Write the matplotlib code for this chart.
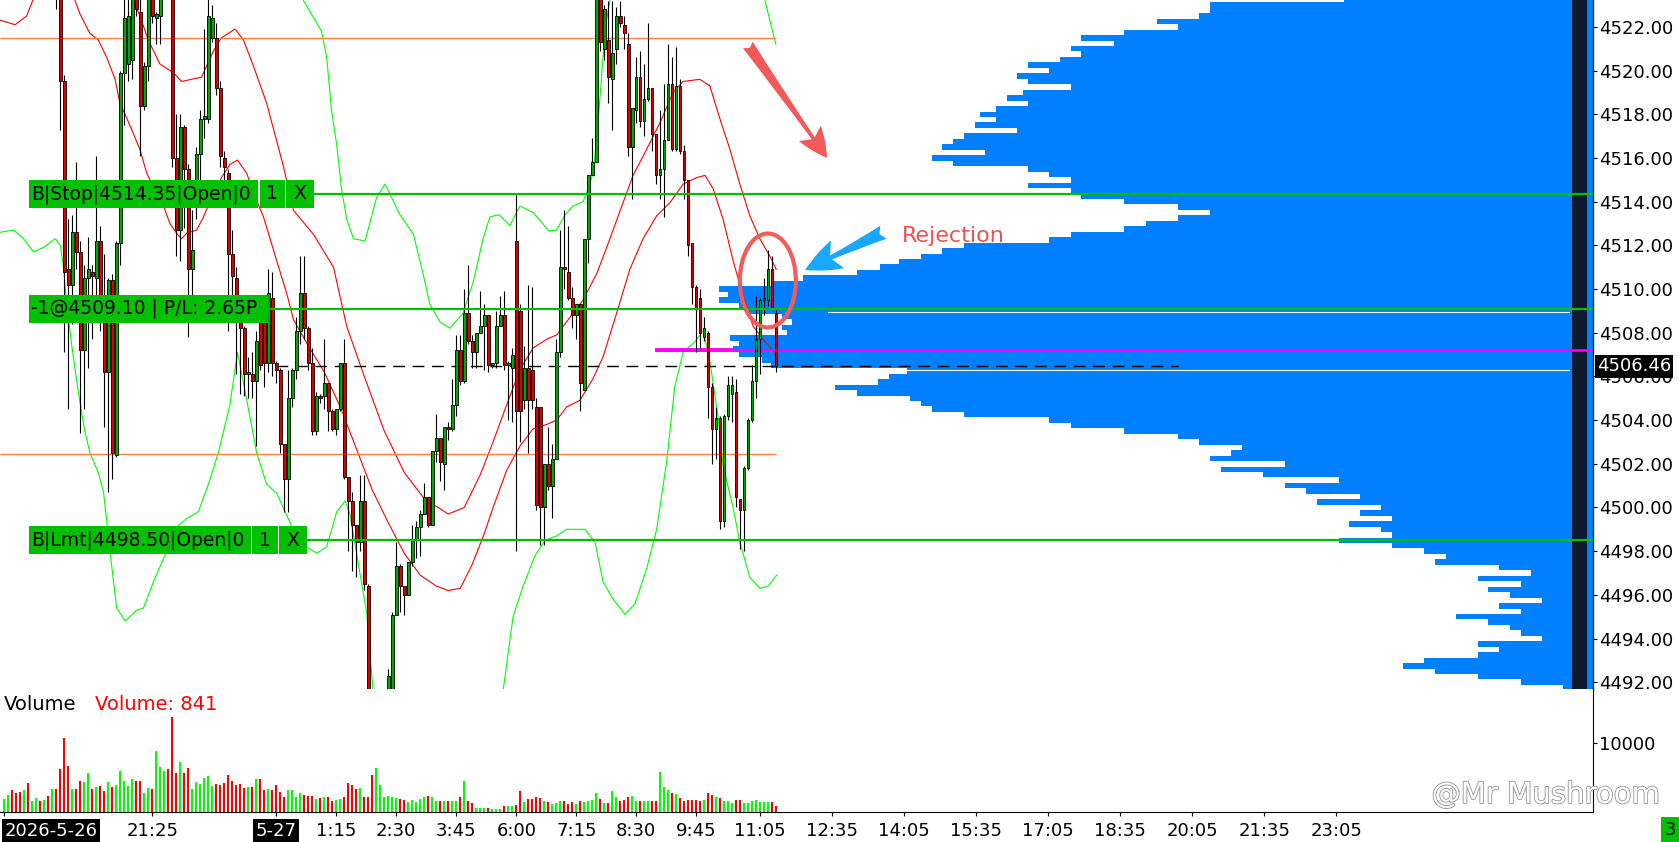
import numpy as np
import matplotlib
matplotlib.use("Agg")
import matplotlib.pyplot as plt
import matplotlib.patheffects as pe
from matplotlib.patches import Rectangle, Ellipse, FancyArrowPatch
from matplotlib.transforms import blended_transform_factory
from matplotlib.ticker import FormatStrFormatter

plt.rcParams['font.family'] = ['DejaVu Sans']

# ---------------- data (5 minute bars, index 0 = first bar on screen) ----------------
opens = [
    4525.0, 4525.6, 4526.4, 4525.9, 4525.1, 4524.6, 4525.5, 4524.4, 4525.0, 4525.4,
    4524.8, 4525.2, 4524.3, 4524.6, 4524.0, 4519.5, 4510.9, 4510.2, 4512.6, 4511.7,
    4507.2, 4510.5, 4510.8, 4510.5, 4512.2, 4509.7, 4506.2, 4510.4, 4502.4, 4512.1,
    4519.9, 4520.3, 4520.5, 4523.5, 4522.7, 4518.4, 4520.2, 4523.6, 4522.4, 4522.5,
    4523.8, 4524.6, 4524.2, 4516.0, 4512.7, 4517.4, 4515.5, 4510.9, 4514.4, 4516.2,
    4517.8, 4517.8, 4521.5, 4521.5, 4519.2, 4516.0, 4515.3, 4511.6, 4510.5, 4508.7,
    4508.2, 4506.1, 4506.1, 4505.8, 4508.9, 4508.7, 4506.6, 4509.6, 4506.6, 4506.3,
    4502.9, 4501.3, 4505.0, 4506.3, 4508.1, 4509.8, 4508.2, 4506.6, 4503.5, 4505.1,
    4505.1, 4505.7, 4504.4, 4503.6, 4504.5, 4506.6, 4501.4, 4500.3, 4499.2, 4498.4,
    4500.3, 4496.4, 4490.2, 4489.4, 4490.1, 4490.8, 4491.3, 4491.7, 4495.1, 4497.3,
    4496.4, 4496.0, 4497.5, 4498.5, 4499.1, 4499.7, 4500.5, 4499.2, 4502.6, 4503.2,
    4502.0, 4503.7, 4503.6, 4504.7, 4507.2, 4505.8, 4508.9, 4507.6, 4507.1, 4508.0,
    4508.3, 4508.8, 4506.5, 4506.6, 4508.3, 4508.8, 4506.5, 4506.4, 4512.2, 4509.0,
    4504.9, 4506.4, 4506.3, 4504.6, 4504.6, 4500.0, 4502.0, 4501.0, 4502.2, 4507.1,
    4511.0, 4510.8, 4509.6, 4508.8, 4509.3, 4505.4, 4512.3, 4515.2, 4515.8, 4523.5,
    4521.0, 4521.4, 4519.6, 4521.0, 4522.5, 4522.1, 4521.2, 4516.5, 4518.2, 4519.7,
    4517.7, 4518.7, 4519.2, 4517.1, 4515.2, 4515.5, 4516.8, 4519.4, 4516.4, 4519.3,
    4516.3, 4515.0, 4512.1, 4510.1, 4509.6, 4507.8, 4508.0, 4505.5, 4503.6, 4504.1,
    4499.4, 4504.2, 4505.2, 4505.3, 4500.4, 4499.9, 4501.8, 4504.0, 4505.8, 4507.7,
    4509.5, 4509.5, 4510.9, 4508.9]
highs = [
    4526.2, 4526.8, 4527.0, 4526.3, 4525.8, 4525.9, 4525.9, 4525.3, 4525.8, 4525.7,
    4525.6, 4525.5, 4525.0, 4524.9, 4524.3, 4519.8, 4513.2, 4513.4, 4515.8, 4512.2,
    4511.1, 4512.4, 4511.1, 4516.1, 4512.9, 4511.6, 4510.5, 4510.7, 4512.2, 4520.0,
    4523.3, 4523.4, 4524.0, 4524.0, 4523.5, 4520.4, 4524.0, 4524.0, 4522.7, 4524.0,
    4525.0, 4525.2, 4524.5, 4518.0, 4518.0, 4517.5, 4515.7, 4513.6, 4516.5, 4518.2,
    4521.9, 4523.3, 4523.0, 4522.2, 4519.5, 4516.3, 4515.5, 4512.7, 4511.0, 4509.3,
    4508.3, 4506.9, 4507.1, 4508.1, 4509.3, 4509.7, 4510.9, 4510.8, 4506.7, 4506.4,
    4502.9, 4506.3, 4506.4, 4508.7, 4511.5, 4511.5, 4508.3, 4507.3, 4505.3, 4505.2,
    4507.7, 4505.7, 4504.5, 4504.5, 4506.6, 4507.7, 4501.4, 4500.7, 4499.2, 4501.5,
    4501.5, 4496.5, 4491.0, 4490.5, 4491.2, 4491.6, 4492.6, 4495.2, 4498.4, 4497.4,
    4496.4, 4497.5, 4499.2, 4499.4, 4499.9, 4501.1, 4500.5, 4502.6, 4504.3, 4503.2,
    4503.7, 4503.9, 4505.9, 4507.9, 4507.9, 4510.0, 4511.1, 4507.9, 4508.0, 4509.9,
    4509.3, 4508.8, 4506.6, 4509.0, 4509.7, 4509.9, 4506.7, 4507.3, 4514.3, 4509.3,
    4507.4, 4510.2, 4510.1, 4505.0, 4504.6, 4502.0, 4503.7, 4502.9, 4507.7, 4512.7,
    4513.6, 4512.9, 4510.1, 4509.3, 4509.3, 4512.3, 4515.2, 4516.9, 4524.0, 4524.0,
    4523.0, 4523.2, 4523.2, 4522.9, 4523.2, 4522.5, 4521.7, 4518.3, 4520.6, 4520.9,
    4520.3, 4522.2, 4519.2, 4517.1, 4518.2, 4519.4, 4521.2, 4520.6, 4521.1, 4519.6,
    4516.6, 4515.0, 4512.1, 4510.2, 4510.0, 4508.7, 4508.1, 4505.7, 4504.6, 4504.2,
    4504.3, 4506.0, 4506.0, 4505.9, 4500.4, 4501.9, 4504.1, 4506.5, 4509.7, 4509.6,
    4510.5, 4511.8, 4511.5, 4509.1]
lows = [
    4524.4, 4525.2, 4525.6, 4524.8, 4524.3, 4524.2, 4524.1, 4524.0, 4524.6, 4524.5,
    4524.3, 4524.0, 4523.6, 4522.8, 4517.3, 4507.1, 4504.5, 4508.4, 4510.9, 4503.4,
    4504.5, 4506.4, 4507.7, 4509.7, 4508.1, 4503.7, 4500.7, 4501.3, 4502.3, 4511.1,
    4517.5, 4519.5, 4519.6, 4522.5, 4516.1, 4518.2, 4519.5, 4522.2, 4521.2, 4521.2,
    4523.5, 4523.8, 4515.6, 4511.5, 4511.3, 4512.8, 4507.8, 4508.5, 4513.2, 4515.0,
    4516.9, 4517.6, 4521.3, 4518.9, 4515.6, 4514.9, 4508.1, 4509.0, 4506.1, 4505.2,
    4505.1, 4505.0, 4505.0, 4502.8, 4506.3, 4505.5, 4506.2, 4506.0, 4505.7, 4502.5,
    4499.8, 4499.8, 4504.6, 4505.9, 4507.5, 4507.7, 4506.3, 4503.3, 4503.3, 4504.8,
    4504.5, 4503.5, 4503.5, 4503.3, 4504.4, 4501.3, 4498.0, 4497.1, 4496.8, 4498.0,
    4496.2, 4489.5, 4488.6, 4488.8, 4489.6, 4490.2, 4490.8, 4491.2, 4495.1, 4495.2,
    4495.1, 4496.0, 4497.3, 4497.7, 4497.8, 4499.7, 4499.1, 4499.2, 4502.1, 4501.2,
    4500.8, 4503.1, 4503.5, 4504.2, 4505.6, 4505.7, 4507.5, 4506.4, 4506.4, 4508.0,
    4506.3, 4506.2, 4506.4, 4506.4, 4508.3, 4506.3, 4504.0, 4503.9, 4498.0, 4503.0,
    4504.5, 4502.5, 4504.5, 4499.9, 4498.3, 4498.3, 4500.8, 4499.5, 4502.2, 4506.9,
    4510.0, 4509.5, 4508.2, 4507.7, 4504.4, 4505.4, 4511.2, 4515.2, 4515.8, 4520.9,
    4520.5, 4518.5, 4517.3, 4520.3, 4522.0, 4521.0, 4516.1, 4514.1, 4517.6, 4517.4,
    4517.0, 4518.6, 4516.3, 4514.8, 4514.1, 4513.3, 4516.8, 4516.3, 4516.3, 4516.2,
    4514.1, 4511.5, 4509.3, 4507.1, 4507.3, 4507.6, 4504.1, 4502.0, 4502.2, 4499.0,
    4499.1, 4504.0, 4503.9, 4500.0, 4498.1, 4498.0, 4501.7, 4503.9, 4505.0, 4506.1,
    4508.8, 4509.2, 4509.1, 4506.2]
closes = [
    4525.6, 4526.4, 4525.9, 4525.1, 4524.6, 4525.5, 4524.4, 4525.0, 4525.4, 4524.8,
    4525.2, 4524.3, 4524.6, 4524.0, 4519.5, 4510.8, 4510.2, 4512.6, 4511.7, 4507.2,
    4510.5, 4510.9, 4510.6, 4512.2, 4509.7, 4506.2, 4510.4, 4502.5, 4512.1, 4519.9,
    4522.4, 4522.5, 4523.5, 4522.8, 4518.4, 4520.2, 4523.6, 4522.5, 4522.6, 4523.6,
    4524.6, 4524.2, 4516.0, 4512.7, 4517.4, 4515.5, 4510.9, 4511.8, 4516.2, 4517.8,
    4517.9, 4522.5, 4522.4, 4519.2, 4516.1, 4515.6, 4511.6, 4510.6, 4508.7, 4508.2,
    4506.1, 4506.2, 4505.8, 4507.6, 4506.5, 4506.6, 4509.8, 4506.6, 4506.3, 4502.9,
    4501.3, 4505.0, 4506.3, 4508.1, 4509.8, 4508.2, 4506.6, 4503.5, 4505.1, 4505.0,
    4505.7, 4504.4, 4503.6, 4504.5, 4506.6, 4501.4, 4500.3, 4499.2, 4498.4, 4500.3,
    4496.5, 4490.2, 4489.4, 4490.1, 4490.8, 4491.4, 4492.3, 4495.1, 4497.3, 4496.4,
    4496.0, 4497.5, 4498.5, 4499.1, 4499.7, 4500.5, 4499.2, 4502.6, 4503.2, 4502.1,
    4503.7, 4503.6, 4504.7, 4507.2, 4505.8, 4508.9, 4507.6, 4507.1, 4508.0, 4508.3,
    4508.8, 4506.5, 4506.6, 4508.3, 4508.8, 4506.5, 4506.6, 4507.0, 4504.4, 4504.4,
    4506.4, 4504.9, 4504.9, 4500.1, 4500.0, 4502.0, 4501.0, 4502.2, 4507.1, 4511.0,
    4510.9, 4509.6, 4508.8, 4509.3, 4505.7, 4512.3, 4515.2, 4515.8, 4523.5, 4521.3,
    4522.8, 4519.7, 4520.8, 4522.5, 4522.2, 4521.7, 4516.5, 4518.3, 4519.7, 4517.7,
    4518.7, 4519.2, 4517.1, 4515.2, 4515.5, 4516.8, 4519.4, 4516.4, 4519.3, 4516.3,
    4515.0, 4512.0, 4510.1, 4509.1, 4508.0, 4508.2, 4505.5, 4503.6, 4504.1, 4499.4,
    4504.2, 4505.6, 4505.6, 4500.5, 4499.9, 4501.8, 4504.0, 4505.8, 4507.7, 4509.5,
    4509.6, 4510.9, 4509.1, 4506.46]
volumes = [
    1880, 2470, 3192, 2814, 2962, 3208, 4192, 1634, 1978, 1634,
    1732, 2322, 3356, 3356, 6258, 10746, 6652, 3356, 3356, 4536,
    4290, 5668, 3356, 3552, 3700, 3110, 4389, 3602, 3848, 6012,
    4536, 3700, 4782, 4438, 4438, 2716, 3454, 3356, 8876, 6564,
    5924, 6170, 13796, 5678, 7252, 5678, 6367, 3306, 4340, 4044,
    5000, 5176, 3700, 4044, 3946, 4192, 5324, 4438, 3946, 4044,
    3454, 3552, 3552, 4800, 4832, 3208, 3306, 3208, 3848, 2962,
    2224, 3208, 3208, 2224, 2716, 2470, 2372, 2322, 1880, 1978,
    2126, 2126, 1634, 1732, 1830, 2126, 4192, 3848, 3306, 3454,
    2224, 2126, 5300, 6450, 3946, 2224, 2322, 2126, 2076, 1880,
    1732, 1486, 1732, 1486, 1830, 2224, 2322, 2126, 1634, 1584,
    1634, 1584, 1634, 1584, 2224, 4536, 1634, 1240, 600, 600,
    600, 600, 450, 400, 450, 900, 900, 900, 1000, 3110,
    1388, 1880, 1880, 2126, 1978, 1634, 1388, 1092, 1240, 1634,
    1634, 1190, 1388, 1092, 1634, 1486, 1634, 1732, 2716, 1880,
    1338, 1240, 3060, 2224, 1634, 1732, 2224, 2372, 1634, 1634,
    1584, 1584, 1584, 1634, 5776, 3552, 3208, 2716, 2618, 1978,
    1634, 1732, 1732, 1782, 1634, 1782, 2716, 2470, 2126, 1978,
    1634, 1634, 1338, 1732, 1732, 1338, 1338, 1634, 1732, 1486,
    1486, 1486, 1486, 841]

# bands (bar index, price)
red_up_x = [31, 32.3, 33.9, 36, 38.9, 42.3, 44.3, 46.8, 49.3, 52.3, 54.3, 57.7, 59.8, 62.3, 65.6,
            69.8, 72.3, 77.3, 82.3, 85.6, 90, 95, 100, 105, 111, 115, 119, 122, 125.6, 128.9,
            132.2, 135.6, 138.1, 141.4, 144.7, 148.1, 150.6, 153.9, 157.2, 160.6, 163.9, 167.2,
            169.7, 173.9, 176.4, 178.9, 181.4, 183.9, 186.4, 188.9, 191.4, 193]
red_up_y = [4524.2, 4523.2, 4522.5, 4521.4, 4520.3, 4519.9, 4519.5, 4519.6, 4519.7, 4520.9, 4521.5,
            4521.9, 4521.4, 4520.2, 4518.5, 4515.6, 4513.6, 4512.5, 4511.0, 4508.3, 4506.0, 4503.5,
            4501.6, 4500.4, 4499.7, 4500.0, 4501.5, 4502.9, 4504.7, 4506.3, 4507.3, 4507.7, 4507.9,
            4508.7, 4509.5, 4510.7, 4511.9, 4513.55, 4515.2, 4516.4, 4517.6, 4519.0, 4519.5,
            4519.6, 4519.3, 4517.8, 4516.4, 4514.8, 4513.35, 4512.3, 4511.5, 4510.9]
red_lo_x = [-1, 2.7, 5.6, 7.3, 9, 16, 17.7, 18.9, 21.4, 23.5, 25.6, 27.7, 28.9, 30.2, 32.3, 33.9,
            35.6, 38.1, 39.8, 41.4, 43.1, 44.3, 45.6, 48.1, 49.8, 52.3, 54.3, 56.4, 58.3, 60.6,
            62.3, 64.8, 68.1, 70.6, 72.3, 76, 80, 84, 88, 92, 96, 100, 104, 108, 111, 114, 117,
            120, 122.2, 125.6, 128.9, 132.2, 135.6, 138.1, 140.6, 143.9, 147.2, 149.7, 153.1,
            156.4, 159.7, 163.1, 166.4, 169.7, 173.1, 175.2, 177.2, 179.7, 182.2, 184.7, 187.2,
            189.7, 192.6]
red_lo_y = [4522.3, 4522.1, 4522.5, 4523.3, 4524.2, 4524.2, 4523.2, 4522.6, 4521.7, 4521.4, 4520.6,
            4519.6, 4518.5, 4518.0, 4517.1, 4516.4, 4515.3, 4514.4, 4513.8, 4513.0, 4512.55,
            4512.3, 4512.55, 4512.7, 4513.3, 4514.4, 4515.1, 4515.7, 4515.9, 4515.3, 4514.4,
            4513.3, 4511.3, 4509.8, 4508.6, 4507.4, 4506.2, 4504.6, 4502.7, 4500.8, 4499.3,
            4497.9, 4496.9, 4496.4, 4496.2, 4496.3, 4497.4, 4498.8, 4500.0, 4501.7, 4502.8,
            4503.6, 4503.8, 4504.0, 4504.6, 4504.9, 4505.9, 4506.9, 4508.9, 4510.9, 4512.3,
            4513.35, 4513.95, 4514.8, 4515.1, 4515.2, 4514.6, 4513.2, 4511.3, 4509.7, 4508.3,
            4507.7, 4507.1]
grn_up_x = [73, 74.8, 79.3, 80.6, 81.8, 83.1, 84.3, 85.6, 87.3, 90.2, 93.1, 95.2, 98.9, 102.3,
            104.7, 106.4, 108.9, 111.4, 114.7, 117.2, 119.7, 121.4, 123.7, 126.4, 128.9, 132.2,
            136.2, 138.1, 140.2, 142.2, 144.7, 146, 147.2, 148.3, 149.2, 150.2, 151.4, 152.5,
            189, 190.2, 191.4, 192.9]
grn_up_y = [4524.5, 4523.2, 4521.8, 4520.6, 4518.2, 4516.6, 4514.6, 4513.2, 4512.3, 4512.2, 4514.2,
            4514.8, 4513.4, 4512.5, 4510.7, 4509.3, 4508.5, 4508.2, 4508.9, 4510.3, 4512.3,
            4513.3, 4513.4, 4512.9, 4513.8, 4513.5, 4512.65, 4512.7, 4513.4, 4513.8, 4514.0,
            4514.6, 4515.3, 4517.3, 4519.4, 4521.9, 4523.2, 4524.5, 4524.5, 4523.2, 4522.3,
            4521.2]
grn_lo_x = [-1, 2.3, 4.8, 7.3, 9.8, 12.7, 14, 14.8, 15.5, 16.8, 18.5, 20, 21.4, 23.5, 24.8, 25.6,
            26.8, 28.1, 30.2, 33.1, 34.8, 37.3, 40.6, 43.1, 45.6, 48.5, 51, 53.5, 56.4, 58.3,
            59.8, 63.1, 65.6, 68.1, 72.2, 75.6, 78.1, 80.6, 83.1, 85.2, 86.4, 88.9, 90.6, 92.2,
            93.5, 123.5, 124.7, 127.2, 129.7, 132.7, 135.2, 138.1, 140.6, 145.2, 147.7, 149.7,
            152.2, 155.2, 157.7, 160.6, 163.1, 165.6, 167.6, 169.7, 172.7, 174.7, 176.4, 178.5,
            179.7, 182.2, 183.9, 186.4, 188.9, 191, 193.1]
grn_lo_y = [4512.6, 4512.7, 4512.3, 4511.7, 4511.9, 4512.3, 4512.0, 4511.0, 4509.5, 4507.5, 4505.3,
            4503.6, 4502.5, 4501.6, 4500.7, 4499.4, 4497.4, 4495.4, 4494.8, 4495.3, 4495.4,
            4496.6, 4498.0, 4499.1, 4499.5, 4499.8, 4501.05, 4502.5, 4504.7, 4507.1, 4505.7,
            4502.5, 4501.05, 4500.65, 4499.0, 4498.2, 4497.9, 4498.2, 4499.8, 4500.3, 4499.7,
            4497.0, 4495.2, 4491.6, 4489.0, 4489.0, 4491.6, 4495.0, 4496.4, 4497.8, 4498.5,
            4498.7, 4499.0, 4499.0, 4498.4, 4496.6, 4495.8, 4495.1, 4495.6, 4497.2, 4499.0,
            4502.1, 4505.5, 4507.1, 4507.6, 4508.1, 4506.7, 4504.1, 4501.9, 4500.0, 4498.4,
            4496.8, 4496.3, 4496.4, 4496.9]

# volume profile, one value per 0.25 level from 4523.25 down to 4491.75
profile_vol = [
    623, 958, 958, 984, 1091, 1038, 1172, 1279, 1198, 1305,
    1279, 1332, 1413, 1359, 1439, 1413, 1305, 1426, 1466, 1413,
    1493, 1533, 1493, 1546, 1439, 1573, 1600, 1627, 1520, 1653,
    1600, 1413, 1359, 1305, 1413, 1305, 1279, 1172, 1038, 958,
    1038, 1118, 1172, 1305, 1359, 1573, 1627, 1680, 1734, 1782,
    1841, 1975, 2055, 2184, 2162, 2184, 2135, 2109, 2026, 2001,
    2026, 2015, 2157, 2135, 2149, 2135, 2076, 2055, 1715, 1761,
    1787, 1894, 1841, 1707, 1680, 1653, 1573, 1359, 1305, 1172,
    1038, 984, 877, 904, 958, 770, 931, 824, 636, 770,
    717, 583, 690, 529, 583, 502, 609, 529, 502, 636,
    502, 422, 368, 395, 235, 154, 288, 181, 262, 208,
    128, 235, 181, 342, 262, 208, 181, 128, 288, 235,
    288, 422, 476, 395, 288, 181, 74]
profile_levels = 4523.25 - 0.25 * np.arange(len(profile_vol))

price_ticks = list(range(4492, 4524, 2))
tick_pos = [0, 37, 68, 83, 98, 113, 128, 143, 158, 173, 189, 207, 225, 243, 261, 279, 297, 315, 333]
tick_labels = ['2026-5-26', '21:25', '5-27', '1:15', '2:30', '3:45', '6:00', '7:15', '8:30',
               '9:45', '11:05', '12:35', '14:05', '15:35', '17:05', '18:35', '20:05', '21:35', '23:05']

stop_price = 4514.35
entry_price = 4509.10
limit_price = 4498.50
poc_price = 4507.21
level_hi = 4521.47
level_lo = 4502.46

# ---------------- layout ----------------
W, H = 1679, 842
PX = 1593
fig = plt.figure(figsize=(W / 100, H / 100), dpi=100)
ax = fig.add_axes([0, 1 - 689 / H, PX / W, 689 / H])
axv = fig.add_axes([0, 1 - 812 / H, PX / W, 123 / H], sharex=ax)
axp = ax.twiny()
axp.set_zorder(1)
ax.set_zorder(2)
ax.patch.set_visible(False)

ax.set_xlim(-1.075, 397.2)
ax.set_ylim(4491.69, 4523.23)

# volume profile behind the price bars
axp.barh(profile_levels, profile_vol, height=0.25, color='#0080ff', linewidth=0)
axp.set_xlim(3982, 0)
axp.set_axis_off()
axp.add_patch(Rectangle((1 - 21 / PX, 0), 15 / PX, 1, transform=axp.transAxes,
                        facecolor='#0c1a2e', edgecolor='none'))
for yy in (4508.95, 4506.27):
    axp.axhline(yy, xmin=0.52, xmax=0.985, color='white', lw=0.8)

idx = np.arange(len(closes))
o = np.array(opens)
c = np.array(closes)
up = c >= o

# bands and levels
ax.plot(red_up_x, red_up_y, color='#ff0000', lw=0.8, zorder=2)
ax.plot(red_lo_x, red_lo_y, color='#ff0000', lw=0.8, zorder=2)
ax.plot(grn_up_x, grn_up_y, color='#00ff00', lw=0.8, zorder=2)
ax.plot(grn_lo_x, grn_lo_y, color='#00ff00', lw=0.8, zorder=2)
ax.hlines([level_hi, level_lo], -1.075, idx[-1], color='#ff8040', lw=1, zorder=2)
ax.hlines(closes[-1], 68, 293.4, color='black', lw=1, linestyles=(0, (8.5, 5.5)), zorder=2)
ax.hlines(poc_price, 162.7, 397.2, color='#ff00ff', lw=1.8, zorder=2)
ax.hlines(poc_price, 162.7, 182.5, color='#ff00ff', lw=2.8, zorder=2)

# candles
ax.vlines(idx, lows, highs, color='black', lw=0.8, zorder=3)
ax.bar(idx, c - o, bottom=o, width=0.62, color=np.where(up, '#00aa00', '#dd0000'),
       edgecolor='black', linewidth=0.6, zorder=4)

# order tags
tr = blended_transform_factory(ax.transAxes, ax.transData)
box_h = 28 / 21.85


def order_tag(price, parts):
    for text, x0, x1, centered in parts:
        ax.add_patch(Rectangle((x0 / PX, price - box_h / 2), (x1 - x0) / PX, box_h, transform=tr,
                               facecolor='#00c000', edgecolor='none', zorder=7))
        if centered:
            ax.text((x0 + x1) / 2 / PX, price, text, transform=tr, ha='center', va='center',
                    fontsize=13.5, zorder=8)
        else:
            ax.text((x0 + 2) / PX, price, text, transform=tr, ha='left', va='center',
                    fontsize=13.5, zorder=8)
    ax.axhline(price, xmin=parts[-1][2] / PX, xmax=1, color='#00c000', lw=1.6, zorder=6)


order_tag(stop_price, [(f'B|Stop|{stop_price:.2f}|Open|0', 29, 258, False),
                       ('1', 259.5, 285, True), ('X', 286, 314, True)])
order_tag(entry_price, [(f'-1@{entry_price:.2f} | P/L: 2.65P', 29, 268, False)])
order_tag(limit_price, [(f'B|Lmt|{limit_price:.2f}|Open|0', 29, 250.7, False),
                        ('1', 251.7, 277.7, True), ('X', 279, 306.7, True)])

# annotations
ax.add_patch(Ellipse((190.9, 4510.39), 14, 4.3, fill=False, ec='#f25c5c', lw=3, zorder=9))
ax.text(237.2, 4512.43, 'Rejection', color='#f05050', fontsize=16, ha='center', va='center', zorder=9)
ax.add_patch(FancyArrowPatch((219.8, 4512.6), (200.2, 4510.87),
                             arrowstyle='fancy,head_length=1.0,head_width=0.85,tail_width=0.4',
                             mutation_scale=26, color='#1aa7ff', lw=0, shrinkA=0, shrinkB=0, zorder=9))
ax.add_patch(FancyArrowPatch((185.9, 4521.17), (205.7, 4516.0),
                             arrowstyle='fancy,head_length=0.9,head_width=0.8,tail_width=0.35',
                             mutation_scale=24, color='#f25a5a', lw=0, shrinkA=0, shrinkB=0, zorder=9))

# price axis
ax.yaxis.tick_right()
ax.set_yticks(price_ticks)
ax.yaxis.set_major_formatter(FormatStrFormatter('%.2f'))
ax.tick_params(axis='y', length=3, width=0.8, pad=1.5, labelsize=13)
ax.tick_params(axis='x', bottom=False, labelbottom=False)
for s in ['top', 'left', 'bottom']:
    ax.spines[s].set_visible(False)
ax.spines['right'].set_linewidth(0.9)
ax.text(1.0025, closes[-1], f'{closes[-1]:.2f}', transform=tr, color='white', fontsize=13,
        ha='left', va='center', clip_on=False, zorder=10,
        bbox=dict(boxstyle='square,pad=0.12', fc='black', ec='none'))

# volume panel
axv.bar(idx, volumes, width=0.5, color=np.where(up, '#00ff00', '#ff0000'))
axv.set_ylim(0, 17830)
axv.yaxis.tick_right()
axv.set_yticks([10000])
axv.set_yticklabels(['10000'])
axv.tick_params(axis='y', length=3, width=0.8, pad=1.5, labelsize=13)
axv.set_xticks(tick_pos)
axv.set_xticklabels(tick_labels)
axv.tick_params(axis='x', length=3, width=0.8, pad=4, labelsize=13)
for s in ['top', 'left']:
    axv.spines[s].set_visible(False)
axv.patch.set_visible(False)
labels = axv.get_xticklabels()
for k in (0, 2):
    labels[k].set_color('white')
    labels[k].set_bbox(dict(facecolor='black', edgecolor='none', pad=2))
labels[0].set_horizontalalignment('left')

fig.text(4 / W, 1 - 704 / H, 'Volume', fontsize=14, va='center')
fig.text(95 / W, 1 - 704 / H, f'Volume: {volumes[-1]}', fontsize=14, va='center', color='#ff0000')

fig.text(1660 / W, 1 - 795 / H, '@Mr Mushroom', ha='right', va='center', fontsize=21, color='white',
         path_effects=[pe.withStroke(linewidth=1.3, foreground='#9a9a9a')])
fig.text(1670 / W, 1 - 830 / H, '3', ha='center', va='center', fontsize=13,
         bbox=dict(fc='#00c000', ec='none', boxstyle='square,pad=0.2'))

fig.savefig('out.png', dpi=100)
